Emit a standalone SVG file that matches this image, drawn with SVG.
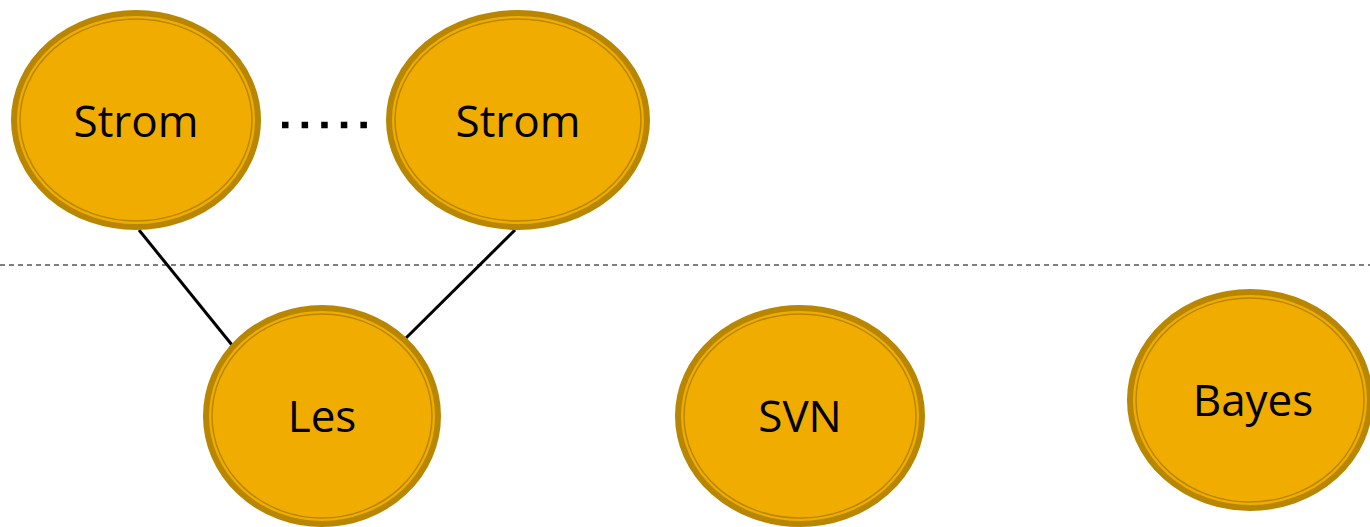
<svg xmlns="http://www.w3.org/2000/svg" width="1370" height="527" viewBox="0 0 1370 527">
  <style>
    .body { fill: #F0AD00; stroke: #B88600; stroke-width: 6; }
    .ring { fill: none; stroke: #B88600; stroke-width: 1.5; }
    .label { font-family: "Open Sans", "Noto Sans", sans-serif; font-size: 44px; fill: #000; text-anchor: middle; }
    .edge { stroke: #000; stroke-width: 3; fill: none; }
  </style>
  <rect width="1370" height="527" fill="#fff"/>

  <!-- separator -->
  <line x1="0" y1="265" x2="1370" y2="265" stroke="#555" stroke-width="1.3" stroke-dasharray="5 4"/>

  <g id="connectors">
    <line class="edge" x1="139" y1="230" x2="232" y2="345"/>
    <line class="edge" x1="515" y1="230" x2="406" y2="338"/>
    <line x1="282" y1="125" x2="370" y2="125" stroke="#000" stroke-width="6.5" stroke-dasharray="6.5 13.1"/>
  </g>

  <g id="strom1">
    <ellipse class="body" cx="136" cy="120" rx="122" ry="107"/>
    <ellipse class="ring" cx="136" cy="120" rx="116" ry="101"/>
    <text class="label" x="136" y="137">Strom</text>
  </g>
  <g id="strom2">
    <ellipse class="body" cx="518" cy="120" rx="129" ry="107"/>
    <ellipse class="ring" cx="518" cy="120" rx="123" ry="101"/>
    <text class="label" x="518" y="137">Strom</text>
  </g>
  <g id="les">
    <ellipse class="body" cx="322" cy="416" rx="116" ry="108"/>
    <ellipse class="ring" cx="322" cy="416" rx="110" ry="102"/>
    <text class="label" x="322" y="432">Les</text>
  </g>
  <g id="svn">
    <ellipse class="body" cx="800" cy="416" rx="122" ry="108"/>
    <ellipse class="ring" cx="800" cy="416" rx="116" ry="102"/>
    <text class="label" x="800" y="432">SVN</text>
  </g>
  <g id="bayes">
    <ellipse class="body" cx="1250" cy="400" rx="120" ry="108"/>
    <ellipse class="ring" cx="1250" cy="400" rx="114" ry="102"/>
    <text class="label" x="1253" y="416">Bayes</text>
  </g>
</svg>
